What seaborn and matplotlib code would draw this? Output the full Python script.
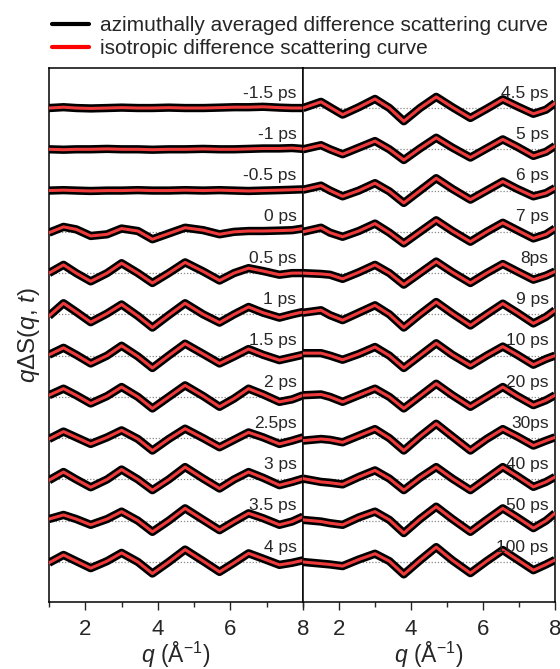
import matplotlib
matplotlib.use("Agg")
import matplotlib.pyplot as plt
from matplotlib.lines import Line2D
import seaborn as sns
import numpy as np
import pandas as pd

sns.set_style("ticks")
plt.rcParams['font.family'] = ['Liberation Sans', 'DejaVu Sans']
plt.rcParams['mathtext.fontset'] = 'custom'
plt.rcParams['mathtext.rm'] = 'Liberation Sans'
plt.rcParams['mathtext.it'] = 'Liberation Sans:italic'

# ---------------- data ----------------
q_left = [1.0, 1.4, 1.75, 2.15, 2.6, 3.0, 3.45, 3.85, 4.3, 4.75, 5.25, 5.7, 6.1, 6.5, 6.9, 7.35, 7.7, 8.0]
q_right = [1.0, 1.5, 1.75, 2.1, 2.55, 3.0, 3.4, 3.8, 4.25, 4.7, 5.15, 5.65, 6.1, 6.55, 6.95, 7.4, 7.75, 8.0]

labels_left = ["-1.5 ps", "-1 ps", "-0.5 ps", "0 ps", "0.5 ps", "1 ps", "1.5 ps", "2 ps",
               "2.5ps", "3 ps", "3.5 ps", "4 ps"]
labels_right = ["4.5 ps", "5 ps", "6 ps", "7 ps", "8ps", "9 ps", "10 ps", "20 ps",
                "30ps", "40 ps", "50 ps", "100 ps"]

d_m1_5 = [0.0, 0.02, 0.0, -0.01, 0.0, 0.01, 0.0, 0.0, 0.01, 0.0, 0.0, 0.01, 0.02, 0.02, 0.03, 0.01, 0.0, 0.0]
d_m1 = [0.0, -0.01, 0.0, 0.0, 0.01, 0.0, 0.0, -0.01, 0.0, 0.0, 0.01, 0.0, 0.0, 0.01, 0.02, 0.02, 0.03, 0.01]
d_m0_5 = [0.0, 0.01, 0.0, -0.01, 0.0, 0.0, 0.01, 0.0, 0.0, 0.01, 0.0, 0.01, 0.0, -0.01, 0.0, 0.01, 0.02, 0.03]
d_0 = [-0.02, 0.12, 0.06, -0.1, -0.06, 0.08, 0.02, -0.18, -0.04, 0.1, 0.04, -0.06, 0.0, 0.02, 0.02, 0.03, 0.04, 0.08]
d_0_5 = [0.0, 0.2, 0.0, -0.2, 0.0, 0.24, 0.0, -0.24, 0.0, 0.26, 0.04, -0.18, 0.0, 0.12, 0.05, -0.04, 0.0, 0.0]
d_1 = [-0.04, 0.27, 0.06, -0.19, 0.02, 0.24, -0.04, -0.32, -0.02, 0.27, 0.0, -0.2, 0.0, 0.18, 0.04, -0.08, 0.0, 0.06]
d_1_5 = [0.02, 0.19, 0.02, -0.19, 0.0, 0.24, -0.02, -0.3, 0.0, 0.29, 0.04, -0.19, -0.02, 0.16, 0.02, -0.11, -0.04, 0.02]
d_2 = [0.04, 0.2, 0.04, -0.16, 0.02, 0.24, 0.0, -0.28, 0.0, 0.28, 0.02, -0.24, -0.04, 0.2, 0.06, -0.12, -0.06, 0.04]
d_2_5 = [-0.02, 0.16, 0.02, -0.14, 0.02, 0.19, -0.02, -0.3, -0.02, 0.23, 0.0, -0.22, -0.04, 0.14, 0.02, -0.14, -0.06, 0.02]
d_3 = [-0.02, 0.18, 0.0, -0.19, 0.0, 0.24, 0.0, -0.26, 0.0, 0.3, 0.02, -0.22, 0.0, 0.18, 0.04, -0.14, -0.06, 0.02]
d_3_5 = [0.04, 0.14, 0.04, -0.1, 0.04, 0.22, 0.0, -0.27, 0.0, 0.3, 0.02, -0.23, -0.02, 0.18, 0.06, -0.1, -0.02, 0.1]
d_4 = [-0.02, 0.17, 0.02, -0.15, 0.02, 0.22, 0.0, -0.28, 0.0, 0.3, 0.02, -0.24, -0.02, 0.21, 0.08, -0.07, -0.02, 0.04]

d_4_5 = [0.0, 0.15, 0.02, -0.16, 0.02, 0.22, 0.0, -0.32, 0.0, 0.27, 0.02, -0.24, -0.02, 0.21, 0.04, -0.14, -0.04, 0.12]
d_5 = [0.0, 0.1, 0.0, -0.12, 0.04, 0.2, 0.0, -0.26, 0.02, 0.28, 0.04, -0.2, 0.02, 0.24, 0.06, -0.16, -0.06, 0.08]
d_6 = [0.02, 0.12, 0.0, -0.14, 0.0, 0.18, -0.02, -0.3, 0.0, 0.3, 0.04, -0.22, 0.0, 0.22, 0.04, -0.14, -0.06, 0.06]
d_7 = [0.0, 0.1, -0.02, -0.12, 0.02, 0.2, -0.02, -0.28, 0.0, 0.28, 0.02, -0.24, 0.0, 0.22, 0.04, -0.16, -0.06, 0.08]
d_8 = [0.0, -0.02, -0.04, -0.14, 0.02, 0.2, 0.0, -0.28, 0.0, 0.28, 0.02, -0.24, 0.0, 0.22, 0.04, -0.16, -0.06, 0.04]
d_9 = [0.04, 0.1, -0.02, -0.14, 0.04, 0.22, 0.0, -0.32, 0.0, 0.3, 0.02, -0.27, 0.0, 0.26, 0.04, -0.22, -0.06, 0.1]
d_10 = [0.06, 0.06, 0.0, -0.1, 0.04, 0.21, 0.0, -0.3, 0.0, 0.3, 0.02, -0.24, 0.0, 0.22, 0.02, -0.22, -0.08, 0.0]
d_20 = [0.04, 0.06, 0.0, -0.12, 0.04, 0.2, 0.0, -0.28, 0.02, 0.32, 0.04, -0.24, 0.0, 0.24, 0.02, -0.2, -0.08, 0.04]
d_30 = [-0.06, -0.02, -0.04, -0.1, 0.06, 0.22, 0.0, -0.3, 0.04, 0.35, 0.04, -0.3, -0.02, 0.22, 0.04, -0.18, -0.06, 0.02]
d_40 = [0.02, -0.06, -0.08, -0.12, 0.06, 0.22, 0.02, -0.26, 0.04, 0.3, 0.02, -0.26, 0.02, 0.3, 0.08, -0.18, -0.06, 0.06]
d_50 = [0.02, -0.02, -0.06, -0.1, 0.08, 0.22, 0.02, -0.3, 0.04, 0.34, 0.04, -0.27, 0.02, 0.3, 0.08, -0.18, 0.0, 0.18]
d_100 = [0.0, -0.04, -0.06, -0.1, 0.06, 0.2, 0.02, -0.3, 0.04, 0.36, 0.04, -0.27, 0.02, 0.29, 0.06, -0.2, -0.06, 0.05]

curves_left = [d_m1_5, d_m1, d_m0_5, d_0, d_0_5, d_1, d_1_5, d_2, d_2_5, d_3, d_3_5, d_4]
curves_right = [d_4_5, d_5, d_6, d_7, d_8, d_9, d_10, d_20, d_30, d_40, d_50, d_100]

# ---------------- figure ----------------
W, H = 560, 669
fig = plt.figure(figsize=(W / 100, H / 100), dpi=100)
ax_l = fig.add_axes([49 / W, 1 - 602 / H, 254 / W, 534 / H])
ax_r = fig.add_axes([303 / W, 1 - 602 / H, 252 / W, 534 / H])

BLACK_LW = 6.0
RED_LW = 2.2
RED = '#ee3a3a'
n = 12

for ax, qs, curves, labels in [(ax_l, q_left, curves_left, labels_left),
                               (ax_r, q_right, curves_right, labels_right)]:
    rows = []
    for i, (vals, lab) in enumerate(zip(curves, labels)):
        off = -i
        for qq, v in zip(qs, vals):
            rows.append({"q": qq, "y": v + off, "delay": lab})
    df = pd.DataFrame(rows)
    for i, lab in enumerate(labels):
        ax.axhline(-i, color='#888888', lw=0.9, ls=(0, (1, 1.5)), zorder=1)
        sub = df[df["delay"] == lab]
        sns.lineplot(data=sub, x="q", y="y", ax=ax, color='black', lw=BLACK_LW,
                     estimator=None, sort=False, zorder=2, solid_joinstyle='round',
                     solid_capstyle='butt')
        sns.lineplot(data=sub, x="q", y="y", ax=ax, color=RED, lw=RED_LW,
                     estimator=None, sort=False, zorder=3, solid_joinstyle='round')
        ax.text(7.82, -i + 0.36, lab, ha='right', va='center', fontsize=12.5, zorder=4)
    ax.set_xlim(1, 8)
    ax.set_ylim(-(n - 1) - 0.97, 0.97)
    ax.set_xticks([2, 4, 6, 8])
    ax.set_xticks([1, 3, 5, 7], minor=True)
    ax.set_yticks([])
    ax.tick_params(axis='x', which='major', direction='out', length=6, width=1,
                   labelsize=16, pad=6)
    ax.tick_params(axis='x', which='minor', direction='out', length=3.5, width=1)
    ax.set_xlabel(r'$q$ (Å$^{-1}$)', fontsize=16.5, labelpad=0)
    ax.set_ylabel('')
    for sp in ax.spines.values():
        sp.set_visible(True)
        sp.set_linewidth(1.1)
        sp.set_color('black')

ax_l.set_ylabel(r'$q$ΔS($q$, $t$)', fontsize=17.5, labelpad=5)

handles = [Line2D([], [], color='black', lw=3),
           Line2D([], [], color='red', lw=3)]
fig.legend(handles, ['azimuthally averaged difference scattering curve',
                     'isotropic difference scattering curve'],
           loc='upper left', bbox_to_anchor=(48 / W, 1 - 12 / H), frameon=False,
           fontsize=15, handlelength=1.75, handletextpad=0.55, labelspacing=0.2,
           borderaxespad=0, borderpad=0.2)

fig.savefig('out.png', dpi=100)
